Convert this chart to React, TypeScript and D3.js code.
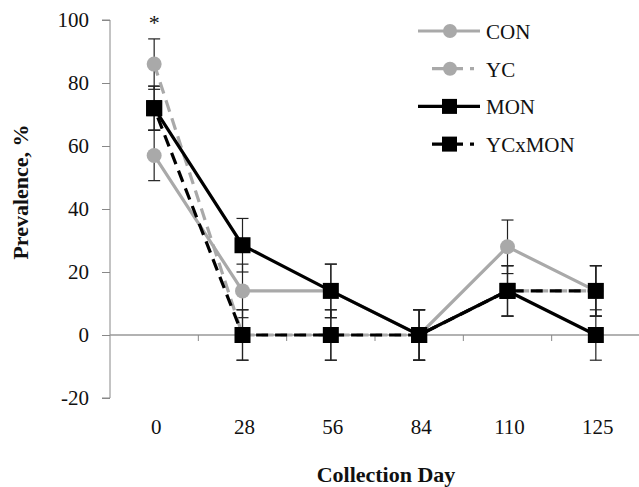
import { useEffect, useRef } from 'react';
import * as d3 from 'd3';

const days = ['0', '28', '56', '84', '110', '125'];
const yTicks = [-20, 0, 20, 40, 60, 80, 100];

const conValues = [57, 14, 14, 0, 28, 14];
const ycValues = [86, 0, 0, 0, 14, 14];
const monValues = [72, 28.5, 14, 0, 14, 0];
const ycxmonValues = [72, 0, 0, 0, 14, 14];

const conErr = [8, 8.5, 8.5, 8, 8.5, 8];
const ycErr = [8, 8, 8, 8, 8, 8];
const monErr = [7, 8.5, 8.5, 8, 8, 8];
const ycxmonErr = [7, 8, 8, 8, 8, 8];

const seriesNames = ['CON', 'YC', 'MON', 'YCxMON'];

const GRAY = '#a9a9a9';
const FONT = "'Liberation Serif', 'Times New Roman', serif";

export default function App() {
    const svgRef = useRef<SVGSVGElement>(null);

    useEffect(() => {
        document.body.style.margin = '0';
        if (!svgRef.current) return;
        const svg = d3.select(svgRef.current);
        svg.selectAll('*').remove();

        const width = 639;
        const height = 487;

        const x = d3.scaleBand<string>().domain(days).range([110, 640]);
        const y = d3.scaleLinear().domain([-20, 100]).range([398, 20]);
        const cx = (d: string) => (x(d) ?? 0) + x.bandwidth() / 2;

        svg.attr('width', width).attr('height', height).attr('font-family', FONT);
        svg.append('rect').attr('width', width).attr('height', height).attr('fill', '#fff');

        // y axis
        const yAxis = svg.append('g').attr('transform', 'translate(110,0)')
            .call(d3.axisLeft(y).tickValues(yTicks).tickSize(8).tickPadding(13).tickFormat(d => String(d)));
        yAxis.attr('font-family', FONT).attr('font-size', 21);
        yAxis.select('.domain').attr('stroke', '#888').attr('d', `M-8,${y(100)}H0V${y(-20)}H-8`);
        yAxis.selectAll('.tick line').attr('stroke', '#888');
        yAxis.selectAll('.tick text').attr('fill', '#111');

        // x axis at zero line
        const xAxisG = svg.append('g').attr('transform', `translate(0,${y(0)})`);
        xAxisG.append('line').attr('x1', 110).attr('x2', 640).attr('stroke', '#999').attr('stroke-width', 1.5);
        xAxisG.selectAll('.xtick')
            .data(days.slice(1))
            .enter()
            .append('line')
            .attr('x1', d => x(d) ?? 0)
            .attr('x2', d => x(d) ?? 0)
            .attr('y1', 0)
            .attr('y2', 6)
            .attr('stroke', '#888');

        svg.append('g').selectAll('text')
            .data(days)
            .enter()
            .append('text')
            .attr('x', d => cx(d) + 2)
            .attr('y', 434)
            .attr('text-anchor', 'middle')
            .attr('font-size', 21)
            .attr('fill', '#111')
            .text(d => d);

        // axis titles
        svg.append('text')
            .attr('x', 386)
            .attr('y', 482)
            .attr('text-anchor', 'middle')
            .attr('font-size', 22)
            .attr('font-weight', 'bold')
            .attr('fill', '#111')
            .text('Collection Day');

        svg.append('text')
            .attr('transform', 'translate(28,192) rotate(-90)')
            .attr('text-anchor', 'middle')
            .attr('font-size', 22)
            .attr('font-weight', 'bold')
            .attr('fill', '#111')
            .text('Prevalence, %');

        const series = [
            { name: 'CON', values: conValues, err: conErr, color: GRAY, dash: null as string | null, marker: 'circle' },
            { name: 'YC', values: ycValues, err: ycErr, color: GRAY, dash: '12,7', marker: 'circle' },
            { name: 'MON', values: monValues, err: monErr, color: '#000', dash: null as string | null, marker: 'square' },
            { name: 'YCxMON', values: ycxmonValues, err: ycxmonErr, color: '#000', dash: '12,7', marker: 'square' },
        ];

        // error bars
        const eb = svg.append('g');
        series.forEach(s => {
            s.values.forEach((v, i) => {
                const px = cx(days[i]);
                const lo = y(v - s.err[i]);
                const hi = y(v + s.err[i]);
                eb.append('line').attr('x1', px).attr('x2', px).attr('y1', lo).attr('y2', hi)
                    .attr('stroke', '#222').attr('stroke-width', 1.2);
                [lo, hi].forEach(cy => {
                    eb.append('line').attr('x1', px - 6).attr('x2', px + 6).attr('y1', cy).attr('y2', cy)
                        .attr('stroke', '#222').attr('stroke-width', 1.2);
                });
            });
        });

        const line = d3.line<number>()
            .x((_, i) => cx(days[i]))
            .y(d => y(d));

        series.forEach((s, si) => {
            const g = svg.append('g');
            const path = g.append('path')
                .attr('d', line(s.values) ?? '')
                .attr('fill', 'none')
                .attr('stroke', s.color)
                .attr('stroke-width', 3.2);
            if (s.dash) path.attr('stroke-dasharray', s.dash).attr('stroke-dashoffset', si === 3 ? 9 : 0);

            if (s.marker === 'circle') {
                g.selectAll('circle').data(s.values).enter().append('circle')
                    .attr('cx', (_, i) => cx(days[i]))
                    .attr('cy', d => y(d))
                    .attr('r', 7.5)
                    .attr('fill', s.color);
            } else {
                g.selectAll('rect').data(s.values).enter().append('rect')
                    .attr('x', (_, i) => cx(days[i]) - 8)
                    .attr('y', d => y(d) - 8)
                    .attr('width', 16)
                    .attr('height', 16)
                    .attr('fill', s.color);
            }
        });

        // significance marker
        svg.append('text')
            .attr('x', cx(days[0]))
            .attr('y', 30)
            .attr('text-anchor', 'middle')
            .attr('font-size', 22)
            .attr('fill', '#111')
            .text('*');

        // legend
        const legend = svg.append('g');
        series.forEach((s, i) => {
            const ly = 31 + i * 37.7;
            const lg = legend.append('g').attr('transform', `translate(0,${ly})`);
            const l = lg.append('line')
                .attr('x1', s.dash ? 432 : 418).attr('x2', s.dash ? 474 : 480)
                .attr('stroke', s.color).attr('stroke-width', 3.2);
            if (s.dash) l.attr('stroke-dasharray', s.dash).attr('stroke-dashoffset', 0);
            if (s.marker === 'circle') {
                lg.append('circle').attr('cx', 450).attr('r', 7).attr('fill', s.color);
            } else {
                lg.append('rect').attr('x', 442).attr('y', -7.5).attr('width', 15).attr('height', 15).attr('fill', s.color);
            }
            lg.append('text')
                .attr('x', 486)
                .attr('y', 8)
                .attr('font-size', 21)
                .attr('fill', '#111')
                .text(seriesNames[i]);
        });
    }, []);

    return <svg ref={svgRef}></svg>;
}
